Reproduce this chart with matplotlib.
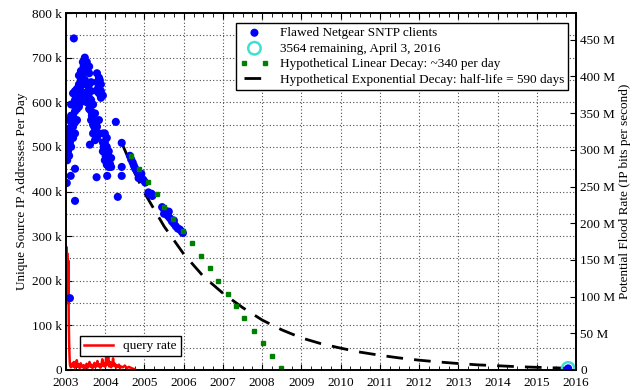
"""Netgear SNTP clients over time, with hypothetical decay curves."""

import matplotlib
matplotlib.use("Agg")
import matplotlib.pyplot as plt
from matplotlib.ticker import FuncFormatter, MultipleLocator

# Observed clients (year, thousands of unique source IPs per day)
blue_x = [
    2003.20, 2003.02, 2003.12, 2003.23, 2003.23, 2003.10, 2003.78, 2004.05,
    2004.32, 2004.42, 2004.42, 2003.61, 2004.27, 2004.42,
    2003.03, 2003.03, 2003.03, 2003.03, 2003.03,
    2003.08, 2003.08, 2003.08, 2003.08, 2003.08,
    2003.13, 2003.13, 2003.13, 2003.13, 2003.13,
    2003.18, 2003.18, 2003.18, 2003.18, 2003.18,
    2003.23, 2003.23, 2003.23, 2003.23, 2003.23,
    2003.28, 2003.28, 2003.28, 2003.28,
    2003.33, 2003.33, 2003.33, 2003.33,
    2003.38, 2003.38, 2003.38, 2003.38,
    2003.43, 2003.43, 2003.43, 2003.43,
    2003.48, 2003.48, 2003.48, 2003.48,
    2003.53, 2003.53, 2003.53, 2003.53,
    2003.59, 2003.59, 2003.59, 2003.59, 2003.59,
    2003.64, 2003.64, 2003.64, 2003.64, 2003.64,
    2003.69, 2003.69, 2003.69, 2003.69,
    2003.74, 2003.74, 2003.74, 2003.74,
    2003.79, 2003.79, 2003.79, 2003.79, 2003.79,
    2003.84, 2003.84, 2003.84, 2003.84, 2003.84,
    2003.89, 2003.89, 2003.89,
    2003.94, 2003.94, 2003.94, 2003.94,
    2003.99, 2003.99, 2003.99, 2003.99,
    2004.04, 2004.04, 2004.04, 2004.04,
    2004.09, 2004.09, 2004.09,
    2004.15, 2004.15,
    2003.05, 2003.10, 2003.15, 2003.20, 2003.26, 2003.31, 2003.36, 2003.41,
    2003.45, 2003.56, 2003.62, 2003.66, 2003.72, 2003.77, 2003.81, 2003.86,
    2003.96, 2004.01, 2004.07, 2004.12,
    2004.63, 2004.66, 2004.70, 2004.73, 2004.76, 2004.80, 2004.83, 2004.86,
    2004.88, 2004.91, 2004.95, 2004.98, 2005.02, 2004.85, 2004.92,
    2005.10, 2005.14, 2005.18, 2005.20,
    2005.45, 2005.50, 2005.55, 2005.60, 2005.65, 2005.70, 2005.75, 2005.80,
    2005.85, 2005.95, 2005.50, 2005.62, 2005.75, 2005.90, 2005.98,
    2015.80,
]
blue_y = [
    743, 419, 435, 451, 379, 161, 432, 435,
    388, 455, 435, 505, 556, 509,
    470, 485, 500, 515, 530,
    480, 500, 520, 540, 560,
    500, 520, 545, 570, 595,
    520, 545, 570, 595, 620,
    530, 555, 580, 605, 625,
    560, 585, 610, 630,
    590, 615, 640, 660,
    600, 625, 650, 670,
    610, 640, 665, 690,
    620, 650, 680, 700,
    600, 640, 670, 690,
    585, 610, 640, 665, 680,
    560, 580, 605, 625, 645,
    530, 550, 570, 595,
    515, 535, 555, 575,
    520, 545, 625, 645, 665,
    530, 560, 620, 640, 655,
    610, 625, 640,
    490, 510, 530, 615,
    470, 490, 510, 530,
    460, 480, 500, 520,
    455, 470, 490,
    455, 475,
    490, 510, 530, 560, 600, 625, 640, 660,
    680, 625, 595, 570, 545, 530, 630, 650,
    500, 480, 465, 462,
    480, 472, 465, 458, 452, 447, 443, 440,
    436, 432, 428, 425, 420, 430, 440,
    398, 393, 395, 390,
    365, 360, 352, 345, 340, 333, 328, 322,
    317, 310, 350, 355, 335, 315, 307,
    3.6,
]

# Last observation: 3564 remaining
last_x = [2015.80]
last_y = [3.564]

# Hypothetical linear decay (~340 per day)
lin_x = [2004.65, 2004.86, 2005.09, 2005.32, 2005.49, 2005.72, 2005.98, 2006.21,
         2006.44, 2006.66, 2006.87, 2007.12, 2007.33, 2007.55, 2007.78, 2008.01,
         2008.24, 2008.47]
lin_y = [480, 451, 422, 395, 365, 339, 312, 285, 256, 229, 200, 170, 143, 117,
         87, 61, 31, 4]

# Hypothetical exponential decay (half-life = 590 days)
exp_x = [2004.42, 2004.75, 2005.0, 2005.5, 2006.0, 2006.5, 2007.0, 2007.5,
         2008.0, 2008.5, 2009.0, 2009.5, 2010.0, 2010.5, 2011.0, 2011.5,
         2012.0, 2012.5, 2013.0, 2013.5, 2014.0, 2014.5, 2015.0, 2015.5, 2015.8]
exp_y = [509, 442, 397, 322, 260, 210, 172, 140, 112, 90, 72, 59, 49, 40,
         33, 27, 22, 18, 14.5, 11.5, 9.5, 7.5, 6, 4.7, 4]

# Query rate (thousands)
query_x = [2003.00, 2003.01, 2003.02, 2003.03, 2003.04, 2003.05, 2003.06, 2003.07,
           2003.08, 2003.09, 2003.10, 2003.125, 2003.15, 2003.175, 2003.20,
           2003.225, 2003.25, 2003.275, 2003.30, 2003.325, 2003.35, 2003.375,
           2003.40, 2003.425, 2003.45, 2003.475, 2003.50, 2003.525, 2003.55,
           2003.575, 2003.60, 2003.625, 2003.65, 2003.675, 2003.70, 2003.725,
           2003.75, 2003.775, 2003.80, 2003.825, 2003.85, 2003.875, 2003.90,
           2003.925, 2003.95, 2003.975, 2004.00, 2004.025, 2004.05, 2004.075,
           2004.10, 2004.125, 2004.15, 2004.175, 2004.20, 2004.225, 2004.25,
           2004.275, 2004.30, 2004.325, 2004.35, 2004.375, 2004.40, 2004.45,
           2004.50, 2004.55, 2004.60, 2004.65, 2004.70, 2004.75]
query_y = [255, 276, 180, 262, 230, 150, 245, 110, 60, 30, 12, 6, 14, 8, 18,
           5, 10, 22, 7, 12, 4, 15, 9, 6, 11, 3, 8, 14, 5, 10, 18, 7, 12, 4,
           9, 16, 6, 11, 20, 8, 13, 5, 10, 24, 9, 15, 7, 30, 12, 34, 8, 18, 6,
           11, 26, 9, 14, 5, 10, 7, 12, 4, 8, 6, 10, 4, 7, 5, 3, 2]

# bits per second per address (76-byte packets)
BITS_PER_CLIENT = 608

plt.rcParams["font.family"] = ["Liberation Serif", "DejaVu Serif"]
plt.rcParams["font.size"] = 9.5

fig = plt.figure(figsize=(6.36, 3.90), dpi=100)
ax = fig.add_axes([66 / 636, 20 / 390, 510 / 636, 357 / 390])
ax2 = ax.twinx()

# Grid
for yr in range(2004, 2016):
    ax.axvline(yr, color="0.3", ls=(0, (1, 2)), lw=0.8, zorder=0)
for v in range(50, 800, 50):
    ax.axhline(v, color="0.3", ls=(0, (1, 2)), lw=0.8, zorder=0)

query_line, = ax.plot(query_x, query_y, color="red", lw=1.8, zorder=2,
                      label="query rate")

exp_line, = ax.plot(exp_x, exp_y, color="black", lw=2, dashes=(6, 4), zorder=3,
                    label="Hypothetical Exponential Decay: half-life = 590 days")
pts = ax.scatter(blue_x, blue_y, s=34, color="blue", edgecolors="none", zorder=4,
                 label="Flawed Netgear SNTP clients")
circ = ax.scatter(last_x, last_y, s=80, facecolors="none", edgecolors="#40e0d0",
                  linewidths=1.8, zorder=5, label="3564 remaining, April 3, 2016")
lin, = ax.plot(lin_x, lin_y, ls="none", marker="s", ms=3, color="green", zorder=6,
               label="Hypothetical Linear Decay: ~340 per day")

ax.set_xlim(2003, 2016)
ax.set_ylim(0, 800)
ax2.set_ylim(0, 800 * BITS_PER_CLIENT / 1000)

ax.xaxis.set_major_locator(MultipleLocator(1))
ax.xaxis.set_minor_locator(MultipleLocator(0.25))
ax.xaxis.set_major_formatter(FuncFormatter(lambda v, p: f"{int(round(v))}"))
ax.yaxis.set_major_locator(MultipleLocator(100))
ax.yaxis.set_minor_locator(MultipleLocator(50))
ax.yaxis.set_major_formatter(FuncFormatter(lambda v, p: "0" if v == 0 else f"{int(v)} k"))
ax2.yaxis.set_major_locator(MultipleLocator(50))
ax2.yaxis.set_major_formatter(FuncFormatter(lambda v, p: "0" if v == 0 else f"{int(v)} M"))

ax.tick_params(axis="both", which="both", direction="in", top=True, labelsize=9.5)
ax.tick_params(axis="x", which="major", length=4, pad=5)
ax.tick_params(axis="x", which="minor", length=3)
ax.tick_params(axis="y", which="major", length=4, pad=3)
ax.tick_params(axis="y", which="minor", length=0)
ax2.tick_params(axis="y", direction="in", length=4, pad=3, labelsize=9.5)

for a in (ax, ax2):
    for s in a.spines.values():
        s.set_linewidth(1.2)

ax.set_ylabel("Unique Source IP Addresses Per Day", labelpad=3)
ax2.set_ylabel("Potential Flood Rate (IP bits per second)", labelpad=3)

leg1 = ax2.legend(handles=[pts, circ, lin, exp_line], loc="upper right",
                  bbox_to_anchor=(0.984, 0.972), borderaxespad=0, fancybox=False,
                  edgecolor="black", framealpha=1, handlelength=2.2,
                  handletextpad=0.8, labelspacing=0.25, borderpad=0.3,
                  fontsize=9.5, scatterpoints=1, numpoints=2)
leg1.get_frame().set_linewidth(1.0)
leg2 = ax2.legend(handles=[query_line], loc="lower left",
                  bbox_to_anchor=(0.027, 0.039), borderaxespad=0, fancybox=False,
                  edgecolor="black", framealpha=1, handlelength=2.2,
                  borderpad=0.3, fontsize=9.5)
leg2.get_frame().set_linewidth(1.0)
ax2.add_artist(leg1)

fig.savefig("out.png", dpi=100)
